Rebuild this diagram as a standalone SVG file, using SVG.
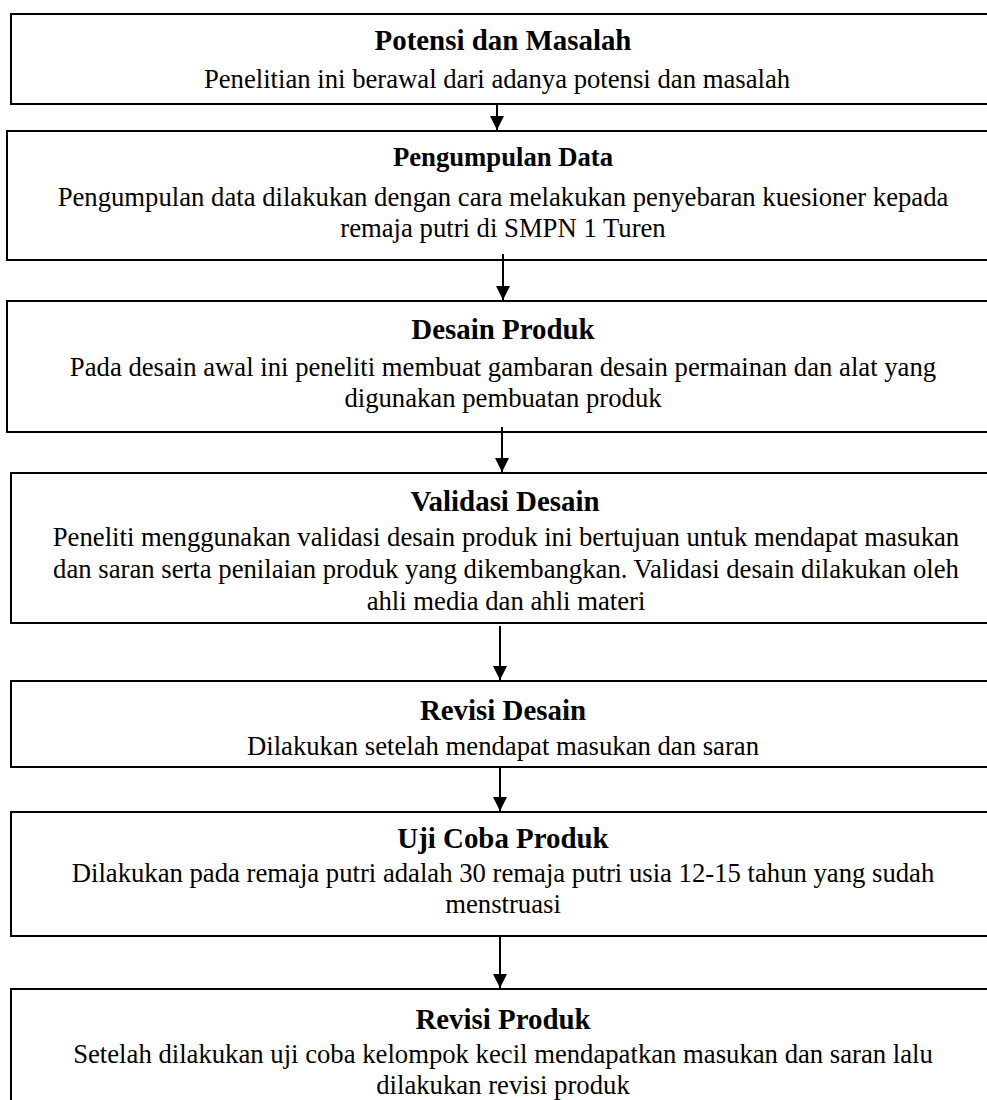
<svg xmlns="http://www.w3.org/2000/svg" width="987" height="1100" viewBox="0 0 987 1100">
<defs>
<style>
.box{fill:#fff;stroke:#000;stroke-width:2}
.t{font-family:"Liberation Serif","Times New Roman",serif;font-weight:bold;font-size:28.9px;text-anchor:middle;fill:#000}
.ts{font-size:26.7px}
.b{font-family:"Liberation Serif","Times New Roman",serif;font-size:26.7px;text-anchor:middle;fill:#000}
.c{stroke:#000;stroke-width:2;fill:none}
</style>
<marker id="ah" markerUnits="userSpaceOnUse" markerWidth="14" markerHeight="15" refX="14" refY="7" orient="auto">
<path d="M0,0 L14,7 L0,14 Z" fill="#000"/>
</marker>
</defs>
<rect width="987" height="1100" fill="#fff"/>
<g id="n1">
<rect class="box" x="11" y="14" width="990" height="90"/>
<text class="t" x="503" y="50">Potensi dan Masalah</text>
<text class="b" x="497" y="88">Penelitian ini berawal dari adanya potensi dan masalah</text>
</g>
<g id="n2">
<rect class="box" x="7" y="131" width="995" height="129"/>
<text class="t ts" x="503" y="166">Pengumpulan Data</text>
<text class="b" x="503" y="206">Pengumpulan data dilakukan dengan cara melakukan penyebaran kuesioner kepada</text>
<text class="b" x="503" y="237">remaja putri di SMPN 1 Turen</text>
</g>
<g id="n3">
<rect class="box" x="7" y="301" width="995" height="131"/>
<text class="t" x="503" y="339">Desain Produk</text>
<text class="b" x="503" y="376">Pada desain awal ini peneliti membuat gambaran desain permainan dan alat yang</text>
<text class="b" x="503" y="407">digunakan pembuatan produk</text>
</g>
<g id="n4">
<rect class="box" x="11" y="473" width="990" height="150"/>
<text class="t" x="505" y="511">Validasi Desain</text>
<text class="b" x="506" y="546">Peneliti menggunakan validasi desain produk ini bertujuan untuk mendapat masukan</text>
<text class="b" x="506" y="578">dan saran serta penilaian produk yang dikembangkan. Validasi desain dilakukan oleh</text>
<text class="b" x="506" y="610">ahli media dan ahli materi</text>
</g>
<g id="n5">
<rect class="box" x="11" y="681" width="990" height="86"/>
<text class="t" x="503" y="720">Revisi Desain</text>
<text class="b" x="503" y="755">Dilakukan setelah mendapat masukan dan saran</text>
</g>
<g id="n6">
<rect class="box" x="11" y="812" width="990" height="124"/>
<text class="t" x="503" y="848">Uji Coba Produk</text>
<text class="b" x="503" y="882">Dilakukan pada remaja putri adalah 30 remaja putri usia 12-15 tahun yang sudah</text>
<text class="b" x="503" y="913">menstruasi</text>
</g>
<g id="n7">
<rect class="box" x="11" y="989" width="990" height="130"/>
<text class="t" x="503" y="1029">Revisi Produk</text>
<text class="b" x="503" y="1063">Setelah dilakukan uji coba kelompok kecil mendapatkan masukan dan saran lalu</text>
<text class="b" x="503" y="1094">dilakukan revisi produk</text>
</g>
<g id="connectors">
<line class="c" x1="497" y1="104" x2="497" y2="130" marker-end="url(#ah)"/>
<line class="c" x1="503" y1="254" x2="503" y2="300" marker-end="url(#ah)"/>
<line class="c" x1="502" y1="427" x2="502" y2="472" marker-end="url(#ah)"/>
<line class="c" x1="500" y1="626" x2="500" y2="680" marker-end="url(#ah)"/>
<line class="c" x1="500" y1="767" x2="500" y2="811" marker-end="url(#ah)"/>
<line class="c" x1="500" y1="936" x2="500" y2="988" marker-end="url(#ah)"/>
</g>
</svg>
